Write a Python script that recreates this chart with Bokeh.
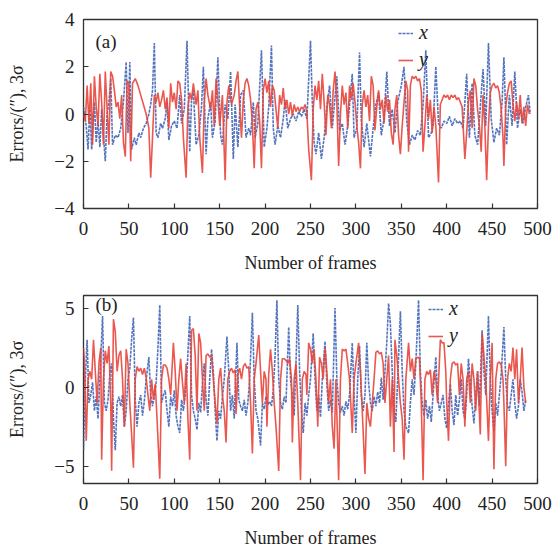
from bokeh.plotting import figure
from bokeh.layouts import column
from bokeh.models import Range1d, Legend, LegendItem, Label, FixedTicker
from bokeh.embed import file_html
from bokeh.resources import INLINE

# ---------------- data (frame, value) ----------------
A_X = [(0, 0.3), (3, -0.5), (5, -1.5), (7, 0.3), (9, -1.5), (12, 0.5), (14, -1.2), (16, -0.3), (18, -1.4),
       (20, 0.2), (24, -2.0), (26, 0.0), (28, 0.5), (30, 1.5), (32, -1.3), (35, -0.9), (38, -1.0), (41, -0.6),
       (44, 0.5), (47, 2.2), (49, -0.8), (51, 2.2), (53, -1.5), (56, -1.0), (58, -1.3), (61, -0.8), (63, -1.0),
       (66, -0.6), (69, -0.4), (72, 0.0), (74, 0.4), (76, 1.0), (78, 3.0), (80, -0.8), (82, -1.0), (85, -0.4),
       (87, -0.6), (90, -0.2), (92, 0.5), (94, -1.1), (97, -0.5), (100, -0.3), (103, -0.6), (106, 0.8),
       (108, -0.4), (111, 0.2), (114, 3.1), (117, -1.6), (119, 0.6), (121, 1.0), (124, -1.3), (127, -0.9),
       (130, 0.3), (132, 2.0), (135, -1.7), (137, -0.2), (140, 0.5), (142, -1.0), (145, -0.3), (148, 2.4),
       (151, -0.9), (153, -1.3), (156, 0.4), (159, -0.2), (162, 1.8), (165, -1.9), (167, 0.4), (170, -1.4),
       (173, 0.8), (176, 1.0), (179, -1.0), (182, -0.6), (184, -0.9), (187, 0.5), (189, -1.0), (192, -0.4),
       (196, 2.7), (199, -1.4), (202, -0.6), (204, 0.3), (207, 2.9), (209, -0.6), (211, -1.3), (214, -0.5),
       (217, -1.0), (220, -0.2), (222, 0.6), (225, -0.6), (228, -0.2), (231, 0.0), (234, -0.3), (237, 0.1),
       (240, -0.1), (243, 0.2), (246, -0.2), (250, 3.1), (252, 0.5), (254, -1.2), (256, -1.7), (259, -0.8),
       (262, -1.9), (265, -1.0), (268, 0.3), (271, 1.2), (274, -0.6), (279, 1.6), (282, -0.7), (285, -0.4),
       (288, -1.3), (291, -0.5), (296, 1.7), (298, -1.0), (301, -0.6), (304, 2.6), (306, -0.3), (309, -1.4),
       (312, -0.4), (316, -1.8), (319, -0.6), (322, 0.4), (325, 0.9), (328, -0.9), (331, -0.2), (334, 1.8),
       (337, -0.5), (340, 0.2), (343, -0.8), (346, 0.5), (350, 1.2), (353, 2.0), (356, -0.3), (359, -1.3),
       (362, -0.9), (365, -1.1), (368, -0.7), (371, -0.9), (374, 0.4), (377, 2.7), (380, -1.0), (383, -0.8),
       (385, -0.5), (388, 2.0), (391, -0.4), (394, -0.6), (397, -0.3), (400, -0.4), (403, -0.1), (406, -0.5),
       (409, -0.2), (412, -0.4), (415, -0.3), (418, -0.6), (420, 0.5), (422, 1.7), (425, -1.0), (428, 1.3),
       (431, -0.9), (434, -1.3), (437, 0.3), (440, 1.9), (443, -0.5), (446, 3.0), (449, -0.2), (452, -1.2),
       (455, -0.6), (458, -0.9), (461, 0.5), (463, 2.4), (466, -1.3), (469, 0.8), (472, -0.5), (475, 1.8),
       (478, -0.6), (481, 0.2), (484, -0.4), (487, 0.3), (490, 0.8), (492, 0.0)]

A_Y = [(0, 0.0), (2, -0.3), (4, 1.2), (6, -0.4), (8, 1.3), (10, -1.3), (12, 1.6), (14, 0.3), (16, -0.5),
       (18, 1.7), (20, 0.5), (22, -1.3), (24, 1.8), (26, 0.2), (28, -1.3), (30, 1.8), (32, 1.6), (34, 1.0),
       (36, 0.3), (38, 0.5), (40, -0.2), (42, 0.8), (44, -1.2), (46, -1.8), (48, 1.4), (50, 1.3), (52, -2.0),
       (54, 1.3), (57, 1.5), (60, 1.2), (63, 0.8), (66, 0.4), (69, 0.0), (72, -0.6), (74, -2.7), (76, -1.0),
       (78, 0.8), (80, 0.5), (82, 0.9), (84, 0.3), (86, 0.6), (88, 1.0), (90, 0.2), (92, 0.7), (94, -0.6),
       (96, 1.3), (98, 0.5), (100, 0.9), (102, 0.2), (104, 1.4), (106, 1.3), (108, 0.6), (110, -1.0),
       (113, -2.7), (115, 0.3), (117, 0.9), (119, 0.6), (121, 1.3), (124, 0.4), (126, 1.0), (128, -1.0),
       (131, -2.5), (133, 0.5), (135, 1.5), (137, 0.8), (140, 0.2), (142, 1.0), (144, -0.5), (146, 1.5),
       (148, 0.6), (150, -0.5), (153, 0.8), (156, -2.8), (158, 0.5), (160, 1.2), (163, 0.4), (166, 0.8),
       (168, 1.4), (170, 1.8), (172, 0.3), (174, -1.0), (176, 0.6), (178, 1.3), (180, 1.5), (182, 1.2),
       (184, 0.6), (186, -0.4), (188, -2.3), (190, 0.2), (192, 0.5), (194, -0.3), (196, -2.3), (198, 1.0),
       (200, 1.5), (202, 0.9), (204, 1.4), (206, 0.3), (208, 1.2), (210, 1.0), (212, 0.2), (214, -0.6),
       (216, 0.8), (218, 0.4), (220, 1.1), (222, 0.2), (224, 0.6), (226, 0.0), (228, 0.5), (230, -0.1),
       (232, 0.4), (234, 0.1), (236, 0.3), (238, 0.1), (240, 0.3), (242, 0.2), (244, 0.4), (246, 0.1),
       (248, -1.5), (251, -2.8), (253, 0.2), (255, 1.2), (257, 0.6), (259, 1.4), (261, 0.2), (263, 1.7),
       (265, 0.5), (267, -0.9), (269, 0.8), (271, 0.4), (273, -0.6), (275, 1.0), (277, 1.8), (279, 0.5),
       (281, -2.2), (283, 0.0), (285, 1.2), (287, 0.4), (289, 0.9), (291, -0.6), (293, 1.2), (295, 0.6),
       (297, 1.3), (299, 0.5), (301, -0.5), (303, -1.2), (305, -2.3), (307, 0.4), (309, 1.0), (311, 0.3),
       (313, 0.8), (315, -0.3), (317, 1.6), (319, 1.2), (321, -0.7), (323, 0.3), (325, 1.0), (327, 0.2),
       (329, 0.6), (331, -0.4), (333, 0.8), (335, 0.1), (337, 0.6), (339, -0.8), (341, -1.3), (343, 0.2),
       (345, 0.8), (347, -0.9), (349, -1.7), (351, -0.5), (353, 0.5), (355, 1.4), (357, 1.0), (358, -1.6),
       (360, 1.2), (362, 1.6), (364, 1.5), (366, 1.6), (368, 1.4), (370, 1.5), (372, 1.0), (374, -1.6),
       (376, -0.5), (378, 0.8), (380, -0.2), (382, 0.6), (384, -0.8), (386, 0.3), (388, -0.5), (391, -2.9),
       (393, 0.4), (395, 0.6), (397, 0.8), (399, 0.7), (401, 0.8), (403, 0.6), (405, 0.8), (407, 0.7),
       (409, 0.8), (411, 0.6), (413, 0.7), (415, 0.5), (417, 0.3), (420, -1.9), (422, -0.8), (424, 0.5),
       (426, 1.0), (428, -0.6), (430, 1.5), (432, 1.2), (434, 0.2), (436, -0.5), (438, -1.6), (440, 0.8),
       (442, -0.5), (444, -2.8), (446, -0.5), (448, 0.9), (450, 1.2), (452, 1.3), (454, 1.1), (456, 1.2),
       (458, 0.9), (460, 0.2), (462, -1.0), (463, -2.2), (465, 0.3), (467, 0.9), (469, 1.3), (471, 1.4),
       (473, 0.4), (475, -0.3), (477, 0.5), (479, -0.2), (481, 0.8), (483, -0.4), (485, 0.3), (487, -0.5),
       (489, 0.4), (491, 0.0)]

B_X = [(0, -4.0), (2, 0.5), (4, 3.0), (6, -1.0), (8, -0.5), (10, 0.3), (12, -1.5), (14, -0.6), (16, -2.0),
       (18, 0.5), (21, 4.5), (23, -1.0), (25, -1.5), (27, -0.8), (29, 0.8), (31, 1.5), (33, -2.0), (35, -4.0),
       (37, -1.0), (39, -0.6), (41, -1.2), (43, -0.5), (45, -2.5), (47, -1.5), (49, 0.5), (51, 1.2), (53, 3.0),
       (55, 4.4), (57, -0.8), (59, -2.5), (61, -1.0), (63, -0.5), (65, -1.8), (67, -0.9), (69, 0.5), (72, 1.9),
       (74, -0.5), (76, -1.2), (78, -0.6), (80, 0.3), (82, 2.5), (84, 5.2), (86, -1.0), (88, -0.5), (90, -0.2),
       (92, -1.5), (94, -2.5), (96, -0.6), (98, -1.2), (100, -0.2), (102, -1.8), (104, -2.5), (106, -2.9),
       (108, -0.8), (110, -1.5), (112, -0.5), (114, 1.0), (117, 4.5), (119, -0.5), (121, -1.5), (123, -2.0),
       (125, -2.7), (127, -1.0), (129, -1.6), (131, 0.2), (133, 1.5), (135, -0.8), (137, -1.8), (139, 0.5),
       (141, 2.4), (143, 1.0), (145, -1.5), (147, -3.4), (149, -1.5), (151, -2.0), (153, -0.6), (155, 0.5),
       (158, 3.2), (160, 1.0), (162, -1.5), (164, -0.5), (166, -2.0), (169, 2.8), (171, -0.8), (173, -1.2),
       (175, -1.5), (177, -0.8), (179, -1.8), (181, -1.0), (183, 0.5), (186, 4.7), (188, 0.5), (190, -1.5),
       (192, -2.0), (195, -3.7), (197, -1.0), (199, -1.4), (201, -0.6), (203, -1.1), (205, -0.9), (207, -1.2),
       (209, -0.2), (211, 2.0), (213, 5.5), (215, 0.5), (217, -1.0), (219, -1.4), (221, -0.6), (223, -1.0),
       (226, 3.8), (228, 0.5), (230, -0.5), (232, -1.8), (234, 1.5), (236, 5.2), (238, 1.0), (240, -1.5),
       (242, -2.9), (244, -1.0), (246, -1.8), (248, -0.5), (250, 0.5), (253, 3.4), (255, 0.5), (257, -1.5),
       (259, -0.5), (261, -1.9), (263, 0.5), (266, 2.9), (268, 0.2), (270, -1.5), (272, -0.8), (274, -1.6),
       (277, 5.0), (279, 0.5), (281, -1.0), (283, -1.6), (285, -1.2), (287, -1.8), (289, -0.9), (291, -1.4),
       (293, -0.5), (296, 2.8), (298, -0.5), (300, -2.9), (302, 0.5), (304, 2.6), (306, -0.6), (308, -1.5),
       (310, -0.5), (312, 2.8), (314, 0.3), (316, -1.0), (318, -1.5), (320, -0.6), (322, -1.2), (324, -0.3),
       (326, -1.0), (328, 0.6), (330, -0.8), (332, 1.0), (334, 2.8), (336, 5.3), (338, 4.0), (340, 1.0),
       (342, -1.5), (344, -2.2), (346, 0.5), (349, 4.8), (351, 1.0), (353, -1.5), (355, -2.5), (358, -2.9),
       (360, -1.0), (362, 0.5), (364, -0.5), (366, 1.5), (369, 5.5), (371, 1.0), (373, -1.0), (375, -1.8),
       (377, -0.8), (379, -2.0), (381, -1.2), (383, -2.2), (385, -0.5), (388, 1.9), (390, -0.5), (392, -1.5),
       (394, -1.0), (396, -0.5), (398, -2.0), (400, -2.6), (402, -1.0), (404, 0.2), (406, -1.5), (408, -2.4),
       (410, -0.5), (412, -1.8), (414, -0.8), (416, 0.5), (418, -1.5), (420, -2.0), (422, -0.5), (424, 1.8),
       (426, 0.3), (428, -1.2), (430, -2.3), (432, -0.5), (434, 1.0), (436, -1.2), (439, 3.6), (441, 1.0),
       (443, -0.5), (446, 4.5), (448, 0.5), (450, -1.5), (452, -2.8), (454, -1.0), (456, -1.8), (458, -0.5),
       (460, 0.8), (463, 3.8), (465, 0.5), (467, -1.2), (469, -1.5), (471, -0.5), (473, 0.5), (475, -1.0),
       (477, -2.0), (479, -1.2), (481, 0.5), (483, -0.3), (485, -1.5), (487, -0.8)]

B_Y = [(0, 2.5), (1, 1.5), (3, -3.4), (5, 0.5), (7, 1.0), (9, 0.5), (11, 3.0), (13, 1.0), (15, -1.0),
       (17, 1.5), (19, 2.5), (20, -4.6), (22, 0.5), (24, 2.3), (26, 1.5), (28, 2.6), (30, -1.0), (31, -5.3),
       (33, 4.3), (35, 3.5), (37, 1.0), (39, 2.0), (41, 2.3), (43, 0.5), (45, -2.5), (47, 2.4), (49, 1.5),
       (51, -1.0), (53, -3.0), (55, -5.1), (57, 0.5), (59, 1.3), (61, 1.0), (63, 1.2), (65, 0.8), (67, 1.2),
       (69, 0.6), (71, -0.5), (73, -1.5), (75, 0.5), (77, -0.8), (79, 0.2), (81, -2.0), (84, -5.8), (86, 0.5),
       (88, 1.4), (90, 1.4), (92, 1.2), (94, 0.5), (96, -0.5), (99, 2.8), (101, 1.0), (103, -1.5), (105, 0.5),
       (107, 1.8), (109, 0.3), (111, -1.0), (113, 1.5), (115, -2.0), (117, -4.6), (119, 3.6), (121, 3.7),
       (123, 2.0), (125, -1.5), (127, 3.4), (129, 2.8), (131, 0.5), (133, -1.5), (135, 2.0), (137, 2.1),
       (139, 1.9), (141, 2.0), (143, 0.5), (145, -1.0), (147, -2.3), (149, 0.5), (151, 1.2), (153, -0.5),
       (155, -1.5), (157, -3.5), (159, 0.5), (161, 1.0), (163, 1.2), (165, 0.9), (167, 1.1), (168, -1.7),
       (170, 0.8), (172, 1.2), (174, 0.5), (176, 1.3), (178, 1.5), (180, 1.2), (182, 1.3), (184, -1.0),
       (186, -4.2), (188, 0.5), (190, 1.5), (193, 3.3), (195, 1.0), (197, -1.0), (199, 1.0), (201, 0.5),
       (202, -2.5), (204, 0.8), (206, 2.4), (208, 1.0), (210, -1.0), (212, -2.5), (215, -5.3), (217, 0.5),
       (219, 1.8), (221, 1.8), (223, 1.7), (225, 1.5), (227, 1.8), (229, 0.5), (230, -3.5), (232, 0.5),
       (234, 1.5), (236, -1.0), (239, -5.9), (241, 0.5), (243, 1.0), (245, 0.8), (246, -0.5), (248, 2.8),
       (250, 2.4), (252, 1.5), (254, 2.4), (256, 0.5), (258, -2.5), (260, 1.9), (262, 1.5), (264, 0.5),
       (266, 2.5), (268, 1.0), (270, -1.0), (272, 0.5), (274, -2.5), (276, -3.9), (278, 0.5), (281, -5.9),
       (283, 0.5), (285, 2.4), (287, 2.3), (289, 2.4), (291, 1.5), (293, 0.5), (296, -2.9), (298, 0.5),
       (300, 1.5), (303, 2.8), (305, 1.0), (307, -1.5), (310, -5.5), (312, -1.0), (314, -2.0), (316, -2.5),
       (318, -1.0), (320, 0.5), (322, 2.2), (324, 2.3), (326, 2.1), (328, 2.2), (330, 1.5), (332, -1.0),
       (334, 0.5), (336, 2.0), (338, -2.5), (340, 0.5), (342, -4.1), (343, 3.0), (345, 2.0), (347, 0.5),
       (349, -1.0), (351, -2.0), (353, -4.6), (355, 0.5), (358, 2.8), (360, 1.0), (362, 1.8), (364, 0.5),
       (366, 1.8), (368, 1.9), (370, 1.8), (372, -1.0), (374, -5.9), (376, 0.5), (378, 1.0), (380, 0.8),
       (382, 1.1), (384, -0.5), (386, 1.0), (388, 0.5), (390, -1.0), (393, 3.0), (395, 2.8), (397, 2.8),
       (399, 1.0), (400, -1.0), (402, -3.4), (404, 0.5), (406, 1.5), (408, 1.6), (410, 1.4), (412, 1.5),
       (414, -0.5), (416, 1.5), (418, 0.5), (420, -2.5), (422, 0.5), (424, 1.0), (426, -1.0), (428, 1.5),
       (430, 0.5), (432, -1.5), (434, 1.0), (437, -3.0), (439, 3.4), (441, 2.0), (443, 0.5), (446, -3.4),
       (448, 0.5), (450, 2.8), (452, -5.2), (454, 0.5), (456, 1.5), (458, 1.6), (460, 1.4), (462, 0.5),
       (463, -1.0), (465, -5.0), (467, 0.5), (469, 1.5), (471, 1.0), (473, 2.5), (475, 0.5), (477, 2.4),
       (479, -1.0), (481, 0.5), (483, 2.5), (485, 0.0), (487, -1.0)]

X_TICKS = [0, 50, 100, 150, 200, 250, 300, 350, 400, 450, 500]
A_Y_TICKS = [-4, -2, 0, 2, 4]
B_Y_TICKS = [-5, 0, 5]

BLUE = "#4a6cb8"
RED = "#e8453b"
FONT = "Liberation Serif"


def make_panel(xdata, ydata, yrange, yticks, tag, tag_drop, legend_loc, height, top, bottom):
    p = figure(width=555, height=height, output_backend="svg", toolbar_location=None,
               x_range=Range1d(0, 500), y_range=Range1d(*yrange),
               min_border_left=83, min_border_right=18, min_border_top=top, min_border_bottom=bottom)
    p.background_fill_color = "white"
    p.border_fill_color = "white"
    p.grid.visible = False
    p.outline_line_color = "#333333"
    p.outline_line_width = 1.3

    fx = [f for f, _ in xdata]
    vx = [v for _, v in xdata]
    fy = [f for f, _ in ydata]
    vy = [v for _, v in ydata]
    rx = p.line(fx, vx, line_color=BLUE, line_width=1.6, line_dash="3 1", line_alpha=0.95)
    ry = p.line(fy, vy, line_color=RED, line_width=1.6, line_alpha=0.9)

    for ax in (p.xaxis[0], p.yaxis[0]):
        ax.axis_line_color = None
        ax.major_tick_in = 5
        ax.major_tick_out = 0
        ax.minor_tick_line_color = None
        ax.major_tick_line_color = "#333333"
        ax.major_tick_line_width = 1.2
        ax.major_label_text_font = FONT
        ax.major_label_text_font_size = "19px"
        ax.major_label_text_color = "#222222"
        ax.axis_label_text_font = FONT
        ax.axis_label_text_font_size = "18px"
        ax.axis_label_text_font_style = "normal"
        ax.axis_label_text_color = "#222222"

    p.xaxis[0].ticker = FixedTicker(ticks=X_TICKS)
    p.yaxis[0].ticker = FixedTicker(ticks=yticks)
    p.yaxis[0].major_label_overrides = {t: (("\u2212" + str(-t)) if t < 0 else str(t)) for t in yticks}
    p.xaxis[0].major_label_standoff = 13
    p.yaxis[0].major_label_standoff = 9
    p.xaxis[0].axis_label = "Number of frames"
    p.xaxis[0].axis_label_standoff = 15
    p.yaxis[0].axis_label = "Errors/(\u2033), 3\u03c3"
    p.yaxis[0].axis_label_standoff = 24

    legend = Legend(items=[LegendItem(label="x", renderers=[rx]), LegendItem(label="y", renderers=[ry])],
                    location=legend_loc, border_line_alpha=0, background_fill_alpha=0,
                    label_text_font=FONT, label_text_font_style="italic", label_text_font_size="20px",
                    label_text_color="#222222", glyph_width=15, glyph_height=20, label_height=20,
                    label_width=24, label_standoff=6, spacing=4, padding=2, margin=0)
    p.add_layout(legend, "center")

    p.add_layout(Label(x=12, y=height - top - bottom - tag_drop, x_units="screen", y_units="screen",
                       text=tag, text_font=FONT, text_font_size="19px", text_color="#222222",
                       text_baseline="middle"))
    return p


p1 = make_panel(A_X, A_Y, (-4, 4), A_Y_TICKS, "(a)", 22, (313, 135), 275, 19, 67)
p2 = make_panel(B_X, B_Y, (-6.1, 5.8), B_Y_TICKS, "(b)", 9, (343, 134), 276, 20, 68)

layout = column(p1, p2, spacing=0)
open("out.html", "w").write(file_html(layout, INLINE))
